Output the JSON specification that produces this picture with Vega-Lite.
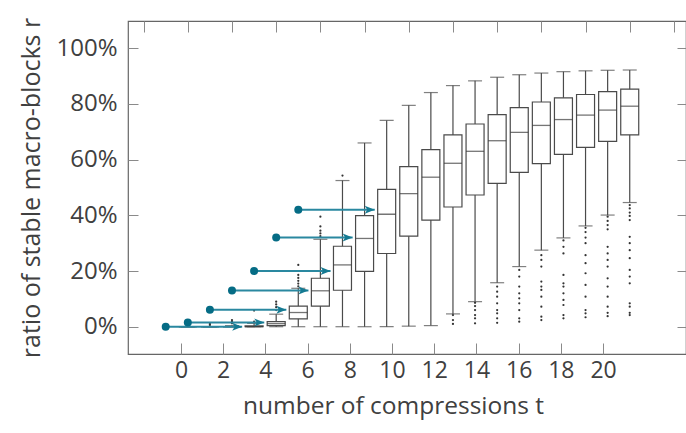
{
  "$schema": "https://vega.github.io/schema/vega-lite/v6.json",
  "autosize": "none",
  "width": 558,
  "height": 333,
  "padding": {"left": 128, "top": 21, "right": 0, "bottom": 79},
  "background": "white",
  "config": {
    "view": {"stroke": "#666666", "strokeWidth": 1.2},
    "font": "Open Sans",
    "axis": {
      "domain": false,
      "grid": false,
      "tickColor": "#8a8a8a",
      "tickWidth": 1,
      "labelColor": "#404040",
      "titleColor": "#404040",
      "labelFont": "Open Sans",
      "titleFont": "Open Sans",
      "labelFontWeight": "normal",
      "titleFontWeight": "normal"
    }
  },
  "datasets": {
    "boxes": [
      {"t": 0, "lo": 0, "q1": 0, "med": 0, "q3": 0, "hi": 0},
      {"t": 1, "lo": 0, "q1": 0, "med": 0, "q3": 0, "hi": 0},
      {"t": 2, "lo": 0, "q1": 0, "med": 0, "q3": 0, "hi": 0.004},
      {"t": 3, "lo": 0, "q1": 0, "med": 0, "q3": 0.003, "hi": 0.012},
      {"t": 4, "lo": 0, "q1": 0.004, "med": 0.011, "q3": 0.018, "hi": 0.045},
      {"t": 5, "lo": 0, "q1": 0.028, "med": 0.051, "q3": 0.074, "hi": 0.138},
      {"t": 6, "lo": 0, "q1": 0.074, "med": 0.129, "q3": 0.174, "hi": 0.314},
      {"t": 7, "lo": 0, "q1": 0.131, "med": 0.222, "q3": 0.289, "hi": 0.525},
      {"t": 8, "lo": 0, "q1": 0.199, "med": 0.317, "q3": 0.399, "hi": 0.66},
      {"t": 9, "lo": 0, "q1": 0.263, "med": 0.404, "q3": 0.493, "hi": 0.741},
      {"t": 10, "lo": 0.002, "q1": 0.325, "med": 0.478, "q3": 0.575, "hi": 0.795},
      {"t": 11, "lo": 0.004, "q1": 0.383, "med": 0.537, "q3": 0.636, "hi": 0.841},
      {"t": 12, "lo": 0.046, "q1": 0.43, "med": 0.587, "q3": 0.689, "hi": 0.866},
      {"t": 13, "lo": 0.09, "q1": 0.473, "med": 0.63, "q3": 0.728, "hi": 0.883},
      {"t": 14, "lo": 0.158, "q1": 0.515, "med": 0.668, "q3": 0.762, "hi": 0.896},
      {"t": 15, "lo": 0.216, "q1": 0.554, "med": 0.698, "q3": 0.787, "hi": 0.905},
      {"t": 16, "lo": 0.275, "q1": 0.586, "med": 0.723, "q3": 0.807, "hi": 0.911},
      {"t": 17, "lo": 0.319, "q1": 0.619, "med": 0.744, "q3": 0.822, "hi": 0.916},
      {"t": 18, "lo": 0.362, "q1": 0.644, "med": 0.76, "q3": 0.834, "hi": 0.919},
      {"t": 19, "lo": 0.401, "q1": 0.666, "med": 0.778, "q3": 0.844, "hi": 0.921},
      {"t": 20, "lo": 0.446, "q1": 0.689, "med": 0.792, "q3": 0.853, "hi": 0.922}
    ],
    "outliers": [
      {"t": 1, "r": 0.006}, {"t": 1, "r": 0.01},
      {"t": 2, "r": 0.012}, {"t": 2, "r": 0.018}, {"t": 2, "r": 0.024},
      {"t": 3, "r": 0.018}, {"t": 3, "r": 0.058},
      {"t": 4, "r": 0.06}, {"t": 4, "r": 0.07}, {"t": 4, "r": 0.08}, {"t": 4, "r": 0.09},
      {"t": 5, "r": 0.145}, {"t": 5, "r": 0.155}, {"t": 5, "r": 0.165}, {"t": 5, "r": 0.175}, {"t": 5, "r": 0.186}, {"t": 5, "r": 0.222},
      {"t": 6, "r": 0.325}, {"t": 6, "r": 0.335}, {"t": 6, "r": 0.345}, {"t": 6, "r": 0.36}, {"t": 6, "r": 0.395},
      {"t": 7, "r": 0.543},
      {"t": 12, "r": 0.042}, {"t": 12, "r": 0.024}, {"t": 12, "r": 0.01},
      {"t": 13, "r": 0.086}, {"t": 13, "r": 0.074}, {"t": 13, "r": 0.06}, {"t": 13, "r": 0.042}, {"t": 13, "r": 0.03}, {"t": 13, "r": 0.012},
      {"t": 14, "r": 0.144}, {"t": 14, "r": 0.126}, {"t": 14, "r": 0.108}, {"t": 14, "r": 0.084}, {"t": 14, "r": 0.06}, {"t": 14, "r": 0.048}, {"t": 14, "r": 0.03}, {"t": 14, "r": 0.014},
      {"t": 15, "r": 0.204}, {"t": 15, "r": 0.18}, {"t": 15, "r": 0.144}, {"t": 15, "r": 0.12}, {"t": 15, "r": 0.102}, {"t": 15, "r": 0.084}, {"t": 15, "r": 0.06}, {"t": 15, "r": 0.03}, {"t": 15, "r": 0.018},
      {"t": 16, "r": 0.257}, {"t": 16, "r": 0.24}, {"t": 16, "r": 0.216}, {"t": 16, "r": 0.162}, {"t": 16, "r": 0.144}, {"t": 16, "r": 0.132}, {"t": 16, "r": 0.108}, {"t": 16, "r": 0.072}, {"t": 16, "r": 0.036}, {"t": 16, "r": 0.024},
      {"t": 17, "r": 0.31}, {"t": 17, "r": 0.287}, {"t": 17, "r": 0.263}, {"t": 17, "r": 0.186}, {"t": 17, "r": 0.156}, {"t": 17, "r": 0.144}, {"t": 17, "r": 0.12}, {"t": 17, "r": 0.096}, {"t": 17, "r": 0.078}, {"t": 17, "r": 0.042}, {"t": 17, "r": 0.03},
      {"t": 18, "r": 0.355}, {"t": 18, "r": 0.34}, {"t": 18, "r": 0.32}, {"t": 18, "r": 0.3}, {"t": 18, "r": 0.257}, {"t": 18, "r": 0.228}, {"t": 18, "r": 0.192}, {"t": 18, "r": 0.15}, {"t": 18, "r": 0.108}, {"t": 18, "r": 0.06}, {"t": 18, "r": 0.048}, {"t": 18, "r": 0.034},
      {"t": 19, "r": 0.395}, {"t": 19, "r": 0.38}, {"t": 19, "r": 0.365}, {"t": 19, "r": 0.35}, {"t": 19, "r": 0.287}, {"t": 19, "r": 0.263}, {"t": 19, "r": 0.24}, {"t": 19, "r": 0.216}, {"t": 19, "r": 0.174}, {"t": 19, "r": 0.144}, {"t": 19, "r": 0.108}, {"t": 19, "r": 0.072}, {"t": 19, "r": 0.05}, {"t": 19, "r": 0.038},
      {"t": 20, "r": 0.437}, {"t": 20, "r": 0.425}, {"t": 20, "r": 0.41}, {"t": 20, "r": 0.398}, {"t": 20, "r": 0.383}, {"t": 20, "r": 0.323}, {"t": 20, "r": 0.3}, {"t": 20, "r": 0.275}, {"t": 20, "r": 0.246}, {"t": 20, "r": 0.204}, {"t": 20, "r": 0.18}, {"t": 20, "r": 0.156}, {"t": 20, "r": 0.084}, {"t": 20, "r": 0.072}, {"t": 20, "r": 0.05}, {"t": 20, "r": 0.042}
    ],
    "arrows": [
      {"t": -1, "r": 0.0, "end": 2.46},
      {"t": 0, "r": 0.015, "end": 3.46},
      {"t": 1, "r": 0.061, "end": 4.46},
      {"t": 2, "r": 0.13, "end": 5.46},
      {"t": 3, "r": 0.2, "end": 6.46},
      {"t": 4, "r": 0.32, "end": 7.46},
      {"t": 5, "r": 0.42, "end": 8.46}
    ]
  },
  "layer": [
    {
      "encoding": {
        "x": {
          "type": "quantitative",
          "scale": {"domain": [-2.48, 22.32], "nice": false, "zero": false},
          "axis": {"orient": "top", "values": [-2, 0, 2, 4, 6, 8, 10, 12, 14, 16, 18, 20, 22], "labels": false, "title": null, "tickSize": -11}
        },
        "y": {
          "type": "quantitative",
          "scale": {"domain": [-0.098, 1.098], "nice": false, "zero": false},
          "axis": {
            "orient": "left",
            "values": [0, 0.2, 0.4, 0.6, 0.8, 1],
            "format": ".0%",
            "tickSize": -10,
            "labelPadding": 21,
            "labelFontSize": 24,
            "title": "ratio of stable macro-blocks r",
            "titleFontSize": 25,
            "titlePadding": 11
          }
        }
      },
      "layer": [
        {
          "data": {"name": "boxes"},
          "mark": {"type": "rule", "color": "#4a4a4a", "strokeWidth": 1.2},
          "encoding": {
            "x": {"field": "t"},
            "y": {"field": "lo"},
            "y2": {"field": "hi"}
          }
        },
        {
          "data": {"name": "boxes"},
          "mark": {"type": "tick", "orient": "horizontal", "size": 14, "thickness": 1.2, "color": "#4a4a4a"},
          "encoding": {"x": {"field": "t"}, "y": {"field": "lo"}}
        },
        {
          "data": {"name": "boxes"},
          "mark": {"type": "tick", "orient": "horizontal", "size": 14, "thickness": 1.2, "color": "#4a4a4a"},
          "encoding": {"x": {"field": "t"}, "y": {"field": "hi"}}
        },
        {
          "data": {"name": "boxes"},
          "mark": {"type": "bar", "width": 18, "fill": "white", "stroke": "#4a4a4a", "strokeWidth": 1.2},
          "encoding": {"x": {"field": "t"}, "y": {"field": "q1"}, "y2": {"field": "q3"}}
        },
        {
          "data": {"name": "boxes"},
          "mark": {"type": "tick", "orient": "horizontal", "size": 18, "thickness": 1.3, "color": "#3a3a3a"},
          "encoding": {"x": {"field": "t"}, "y": {"field": "med"}}
        },
        {
          "data": {"name": "outliers"},
          "mark": {"type": "point", "shape": "circle", "filled": true, "size": 5, "color": "#333333", "opacity": 1},
          "encoding": {"x": {"field": "t"}, "y": {"field": "r"}}
        },
        {
          "data": {"name": "arrows"},
          "mark": {"type": "rule", "color": "#2a88a0", "strokeWidth": 2},
          "encoding": {"x": {"field": "t"}, "x2": {"field": "end"}, "y": {"field": "r"}}
        },
        {
          "data": {"name": "arrows"},
          "mark": {"type": "point", "shape": "M-2,-0.8L0,0L-2,0.8L-1.5,0Z", "filled": true, "size": 100, "color": "#157a92", "opacity": 1},
          "encoding": {"x": {"field": "end"}, "y": {"field": "r"}}
        },
        {
          "data": {"name": "arrows"},
          "mark": {"type": "point", "shape": "circle", "filled": true, "size": 64, "color": "#056c85", "opacity": 1},
          "encoding": {"x": {"field": "t"}, "y": {"field": "r"}}
        }
      ]
    },
    {
      "data": {"name": "boxes"},
      "mark": {"type": "point", "opacity": 0},
      "encoding": {
        "x": {
          "field": "t",
          "type": "quantitative",
          "scale": {"domain": [-2.51, 23.93], "nice": false, "zero": false},
          "axis": {
            "orient": "bottom",
            "values": [0, 2, 4, 6, 8, 10, 12, 14, 16, 18, 20],
            "tickSize": -11,
            "labelPadding": 16,
            "labelFontSize": 23,
            "title": "number of compressions t",
            "titleFontSize": 24.5,
            "titlePadding": 12,
            "titleX": 265
          }
        },
        "y": {
          "field": "med",
          "type": "quantitative",
          "scale": {"domain": [-0.098, 1.098], "nice": false, "zero": false},
          "axis": {"orient": "right", "values": [0, 0.2, 0.4, 0.6, 0.8, 1], "labels": false, "title": null, "tickSize": -9}
        }
      }
    }
  ],
  "resolve": {"scale": {"x": "independent", "y": "independent"}}
}
